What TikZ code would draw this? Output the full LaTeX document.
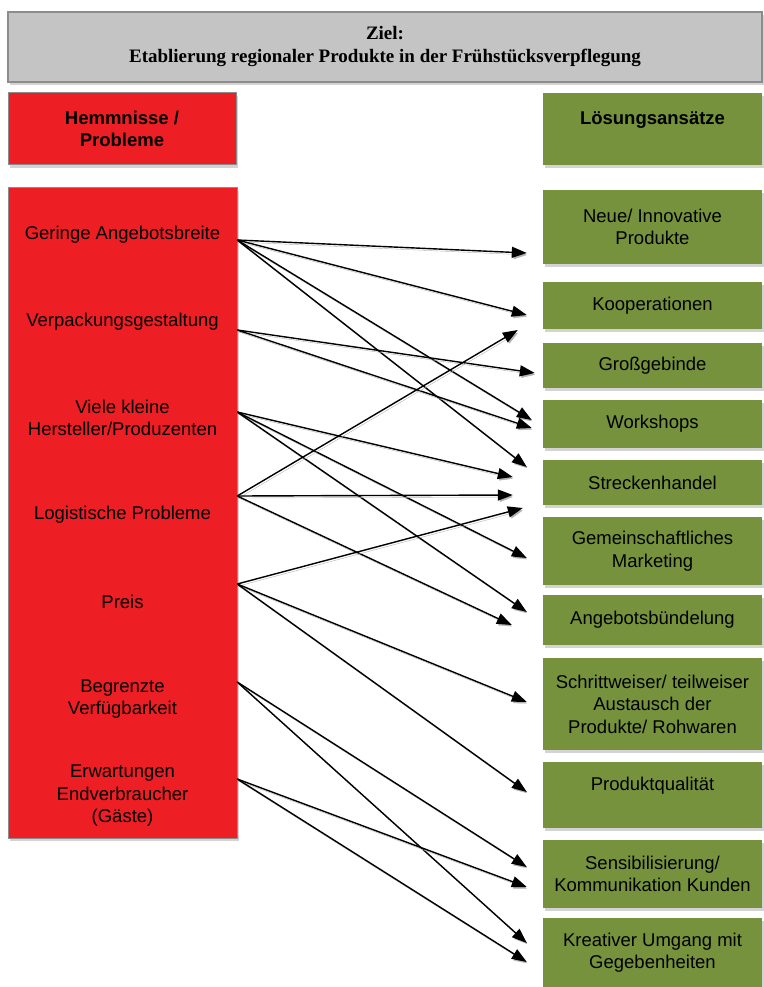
\documentclass[tikz,border=0pt]{standalone}
\usepackage{fontspec}
\setmainfont{Liberation Sans}
\newfontfamily\headfont{Liberation Serif}
\usetikzlibrary{arrows.meta,calc,shadows}
\definecolor{probred}{HTML}{EE1F24}
\definecolor{solgreen}{HTML}{76923C}
\definecolor{goalgray}{HTML}{C4C4C4}

\begin{document}
\begin{tikzpicture}[x=1pt,y=-1pt,>={Triangle[length=15pt,width=11pt]},
  font=\fontsize{18.5}{22.5}\selectfont,
  boxshadow/.style={drop shadow={shadow xshift=1.5pt,shadow yshift=-3pt,opacity=.35}},
  probbox/.style={fill=probred,draw=black!45,line width=1pt,boxshadow,inner sep=0pt,align=center},
  solbox/.style={fill=solgreen,boxshadow,minimum width=219pt,inner sep=0pt,align=center},
  probtext/.style={minimum width=229pt,inner sep=0pt,align=center},
  link/.style={->,line width=1.4pt,preaction={draw=black!30,transform canvas={shift={(1.5pt,-2pt)}}}}]
  \useasboundingbox (0,0) rectangle (763,987);
  % goal on top
  \node[fill=goalgray,draw=black!45,line width=2pt,boxshadow,minimum width=754pt,minimum height=70pt,
        align=center,font=\headfont\bfseries\fontsize{19}{23}\selectfont] (goal) at (385,47)
        {Ziel:\\Etablierung regionaler Produkte in der Frühstücksverpflegung};
  % column headings
  \node[probbox,minimum width=228pt,minimum height=72pt,font=\fontsize{18.5}{22.5}\selectfont\bfseries]
        (hemm) at (122,129) {Hemmnisse /\\Probleme};
  \node[solbox,minimum height=72pt,font=\fontsize{18.5}{22.5}\selectfont\bfseries]
        (loes) at (652.5,129) {Lösungsansätze\\\mbox{}};
  % problems (one red box)
  \node[probbox,minimum width=229pt,minimum height=650pt] (probs) at (122.5,513) {};
  \node[probtext] (geringe) at (122.5,235) {Geringe Angebotsbreite};
  \node[probtext] (verpack) at (122.5,322) {Verpackungsgestaltung};
  \node[probtext] (viele) at (122.5,418) {Viele kleine\\Hersteller/Produzenten};
  \node[probtext] (logist) at (122.5,515) {Logistische Probleme};
  \node[probtext] (preis) at (122.5,602) {Preis};
  \node[probtext] (begrenzt) at (122.5,699) {Begrenzte\\Verfügbarkeit};
  \node[probtext] (erwart) at (122.5,796) {Erwartungen\\Endverbraucher\\(Gäste)};
  % solutions
  \node[solbox,minimum height=74pt] (neue) at (652.5,227) {Neue/ Innovative\\Produkte};
  \node[solbox,minimum height=47pt] (koop) at (652.5,305.5) {Kooperationen};
  \node[solbox,minimum height=45pt] (gross) at (652.5,365.5) {Großgebinde};
  \node[solbox,minimum height=48pt] (works) at (652.5,424) {Workshops};
  \node[solbox,minimum height=45pt] (strecken) at (652.5,482.5) {Streckenhandel};
  \node[solbox,minimum height=68pt] (gemein) at (652.5,551) {Gemeinschaftliches\\Marketing};
  \node[solbox,minimum height=50pt] (buendel) at (652.5,620) {Angebotsbündelung};
  \node[solbox,minimum height=92pt] (schritt) at (652.5,704) {Schrittweiser/ teilweiser\\Austausch der\\Produkte/ Rohwaren};
  \node[solbox,minimum height=66pt] (qual) at (652.5,795) {Produktqualität\\\mbox{}};
  \node[solbox,minimum height=68pt] (sensi) at (652.5,874) {Sensibilisierung/\\Kommunikation Kunden};
  \node[solbox,minimum height=69pt] (kreativ) at (652.5,952.5) {Kreativer Umgang mit\\Gegebenheiten};
  % links problem -> solution
  \draw[link] ($(geringe.east)+(0,5)$) -- ($(neue.west)+(-16,26)$);
  \draw[link] ($(geringe.east)+(0,5)$) -- ($(koop.west)+(-16,9.5)$);
  \draw[link] ($(geringe.east)+(0,5)$) -- ($(works.west)+(-11,-4)$);
  \draw[link] ($(geringe.east)+(0,5)$) -- ($(strecken.west)+(-16,-15.5)$);
  \draw[link] ($(verpack.east)+(0,8)$) -- ($(gross.west)+(-8,7.5)$);
  \draw[link] ($(verpack.east)+(0,8)$) -- ($(works.west)+(-11,4)$);
  \draw[link] ($(viele.east)+(0,-6)$) -- ($(strecken.west)+(-30,-5.5)$);
  \draw[link] ($(viele.east)+(0,-6)$) -- ($(gemein.west)+(-16,7)$);
  \draw[link] ($(viele.east)+(0,-6)$) -- ($(buendel.west)+(-16,-8)$);
  \draw[link] ($(logist.east)+(0,-19)$) -- ($(koop.west)+(-25,24.5)$);
  \draw[link] ($(logist.east)+(0,-19)$) -- ($(strecken.west)+(-30,12.5)$);
  \draw[link] ($(logist.east)+(0,-19)$) -- ($(buendel.west)+(-31,5)$);
  \draw[link] ($(preis.east)+(0,-18)$) -- ($(strecken.west)+(-20,25.5)$);
  \draw[link] ($(preis.east)+(0,-18)$) -- ($(schritt.west)+(-16,-2)$);
  \draw[link] ($(preis.east)+(0,-18)$) -- ($(qual.west)+(-16,-3)$);
  \draw[link] ($(begrenzt.east)+(0,-17)$) -- ($(sensi.west)+(-16,-7)$);
  \draw[link] ($(begrenzt.east)+(0,-17)$) -- ($(kreativ.west)+(-16,-9.5)$);
  \draw[link] ($(erwart.east)+(0,-17)$) -- ($(sensi.west)+(-16,13)$);
  \draw[link] ($(erwart.east)+(0,-17)$) -- ($(kreativ.west)+(-16,9.5)$);
\end{tikzpicture}
\end{document}
